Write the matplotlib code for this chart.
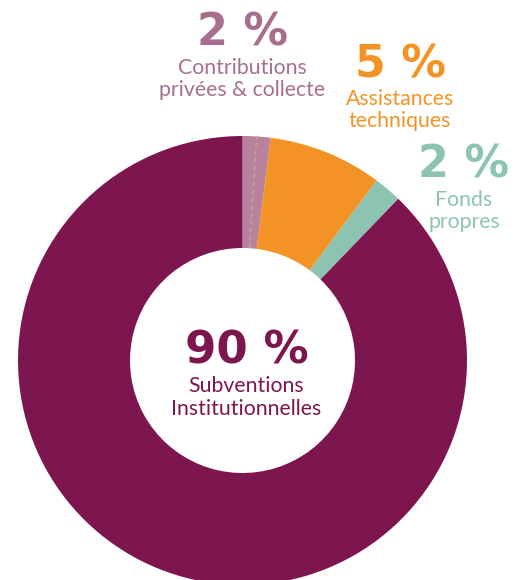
import numpy as np
import matplotlib
matplotlib.use("Agg")
import matplotlib.pyplot as plt

# ---- data ----
categories = ["Contributions\nprivées & collecte", "Assistances\ntechniques",
              "Fonds\npropres", "Subventions\nInstitutionnelles"]
slice_values = [2.0, 8.2, 2.0, 87.8]          # slice sizes as drawn
pct_labels = ["2 %", "5 %", "2 %", "90 %"]     # printed labels
slice_colors = ["#B8819C", "#F39325", "#8DC3B1", "#7D164E"]
text_colors = ["#A86E8E", "#F39325", "#8DC3B1", "#7D164E"]

W, H = 522, 580
fig = plt.figure(figsize=(W / 100, H / 100), dpi=100)
ax = fig.add_axes([0, 0, 1, 1])

cx, cy = 242.5, H - 360.5
R, r_in = 224.5, 112.5

wedges, _ = ax.pie(slice_values, colors=slice_colors, startangle=90,
                   counterclock=False, radius=R, center=(cx, cy),
                   wedgeprops=dict(width=R - r_in, linewidth=0, antialiased=True))

# faint dashed line in the middle of the first wedge
a = np.deg2rad(90 - 360 * slice_values[0] / sum(slice_values) / 2)
ax.plot([cx + r_in * np.cos(a), cx + R * np.cos(a)],
        [cy + r_in * np.sin(a), cy + R * np.sin(a)],
        color="#D9A3A8", lw=0.8, ls=(0, (4, 3)))

ax.set_xlim(0, W)
ax.set_ylim(0, H)
ax.set_aspect("equal")
ax.axis("off")

big = dict(family=["DejaVu Sans"], weight="bold", ha="center", va="baseline")
small = dict(family=["Lato", "DejaVu Sans"], weight="normal", ha="center", va="baseline")

# (x, baseline of big number, baselines of lines, big size)
layout = [
    (242.5, 46, [74, 96], 32),
    (400, 77, [105, 127], 32),
    (464, 177, [206, 228], 32),
    (246.5, 363, [392, 415], 32.5),
]
for (x, yb, ylines, fs), pct, cat, col in zip(layout, pct_labels, categories, text_colors):
    ax.text(x, H - yb, pct, color=col, fontsize=fs, **big)
    for line, yl in zip(cat.split("\n"), ylines):
        ax.text(x, H - yl, line, color=col, fontsize=15.3, **small)

fig.savefig("out.png", dpi=100)
